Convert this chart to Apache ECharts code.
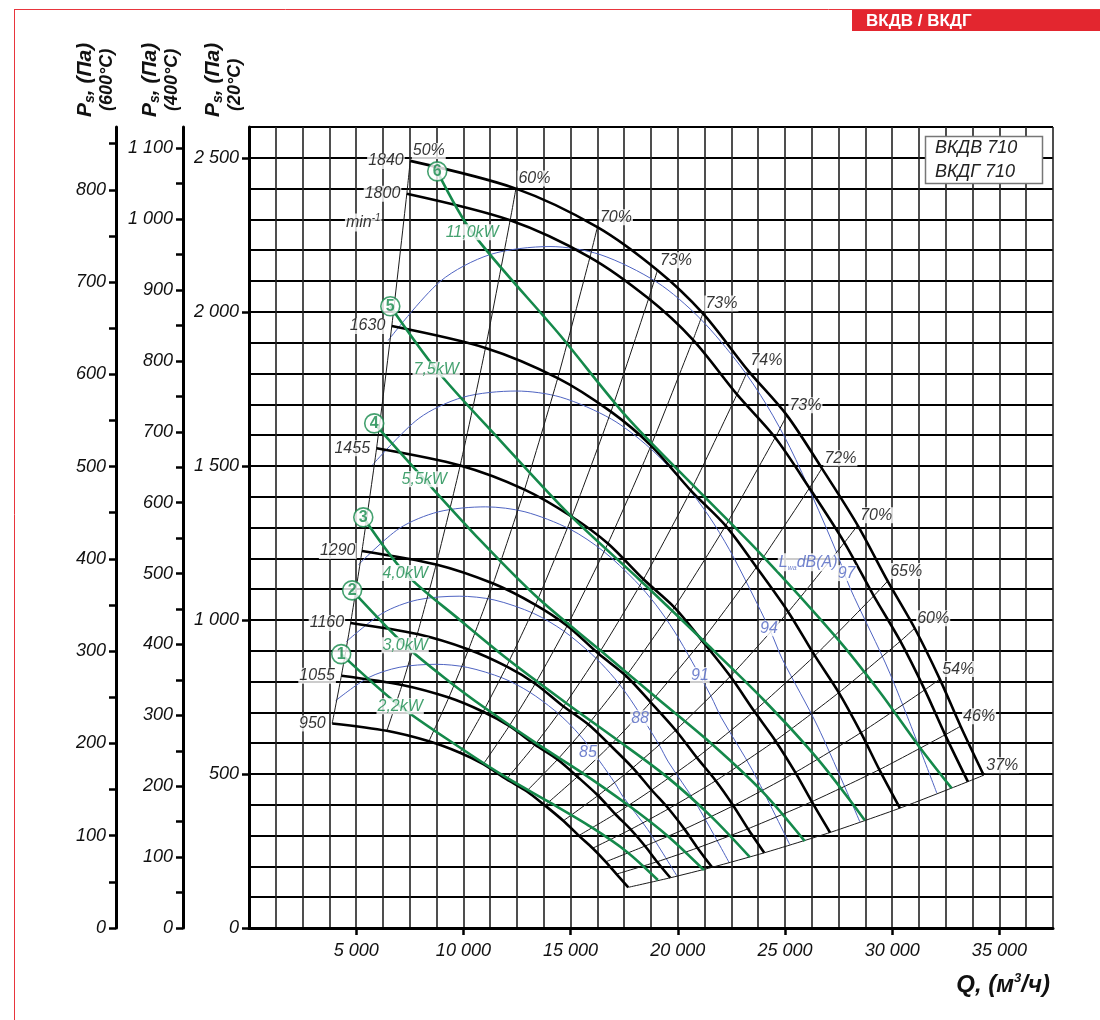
<!DOCTYPE html>
<html>
<head>
<meta charset="utf-8">
<title>ВКДВ 710 / ВКДГ 710</title>
<script src="https://cdn.jsdelivr.net/npm/echarts@6/dist/echarts.min.js"></script>
<style>
  html, body { margin: 0; padding: 0; background: #fff; }
  #chart { width: 1100px; height: 1020px; }
</style>
</head>
<body>
<div id="chart"></div>
<script>
// fan speeds, min^-1
const speeds = [950, 1055, 1160, 1290, 1455, 1630, 1800, 1840];
// efficiency marks, same index on every speed curve
const effLabels = ['50%', '60%', '70%', '73%', '73%', '74%', '73%', '72%', '70%', '65%', '60%', '54%', '46%', '37%'];

// speed curves: Q (m3/h) and Ps (Pa, 20°C)
const q950 = [3880, 6430, 8390, 9840, 10930, 12010, 12950, 13800, 14660, 15380, 16030, 16640, 17140, 17690];
const p950 = [664, 640, 606, 569, 532, 483, 444, 398, 348, 300, 259, 215, 175, 132];
const q1055 = [4310, 7140, 9320, 10920, 12140, 13340, 14390, 15320, 16280, 17080, 17800, 18470, 19030, 19650];
const p1055 = [819, 789, 748, 702, 656, 595, 547, 491, 430, 370, 320, 266, 215, 163];
const q1160 = [4740, 7850, 10240, 12010, 13350, 14670, 15820, 16850, 17900, 18780, 19570, 20310, 20920, 21600];
const p1160 = [990, 954, 904, 849, 793, 719, 661, 593, 520, 448, 387, 321, 260, 197];
const q1290 = [5270, 8730, 11390, 13360, 14840, 16310, 17590, 18730, 19900, 20890, 21770, 22590, 23270, 24030];
const p1290 = [1224, 1180, 1118, 1049, 981, 890, 818, 733, 642, 553, 478, 397, 322, 244];
const q1455 = [5950, 9850, 12850, 15060, 16740, 18400, 19840, 21130, 22450, 23560, 24550, 25480, 26250, 27100];
const p1455 = [1557, 1501, 1423, 1335, 1248, 1132, 1041, 933, 817, 704, 608, 505, 410, 310];
const q1630 = [6660, 11030, 14400, 16880, 18750, 20610, 22230, 23670, 25150, 26390, 27510, 28540, 29400, 30360];
const p1630 = [1954, 1883, 1785, 1676, 1566, 1420, 1306, 1171, 1026, 884, 764, 634, 514, 389];
const q1800 = [7360, 12180, 15900, 18640, 20710, 22760, 24540, 26140, 27770, 29140, 30380, 31520, 32470, 33530];
const p1800 = [2383, 2297, 2177, 2043, 1909, 1732, 1592, 1428, 1251, 1078, 931, 773, 627, 475];
const q1840 = [7520, 12450, 16250, 19050, 21170, 23270, 25090, 26720, 28390, 29790, 31050, 32220, 33190, 34270];
const p1840 = [2490, 2400, 2275, 2135, 1995, 1810, 1664, 1492, 1307, 1126, 973, 808, 655, 496];

// motor power lines; point 0 = circled number, point 1 = kW label
const motorKw = ['2,2kW', '3,0kW', '4,0kW', '5,5kW', '7,5kW', '11,0kW'];
const g1Q = [4300, 7050, 9940, 12040, 13990, 15950, 17630, 19070];
const g1P = [889, 720, 581, 487, 409, 328, 247, 156];
const g2Q = [4810, 7280, 9380, 11010, 13390, 15490, 17680, 19540, 21220];
const g2P = [1096, 918, 798, 714, 600, 506, 399, 298, 188];
const g3Q = [5330, 7280, 9850, 12130, 14740, 17070, 19450, 21540, 23360];
const g3P = [1333, 1152, 999, 869, 733, 616, 493, 363, 230];
const g4Q = [5840, 8170, 10780, 13480, 16370, 18980, 21640, 23970, 25920];
const g4P = [1638, 1457, 1259, 1071, 902, 749, 594, 441, 282];
const g5Q = [6590, 8730, 11710, 14970, 18240, 21170, 24010, 26530, 28720];
const g5P = [2018, 1813, 1583, 1340, 1129, 934, 740, 548, 350];
const g6Q = [8780, 10410, 14510, 17630, 20570, 23830, 27420, 29420, 31280, 32770];
const g6P = [2456, 2258, 1924, 1658, 1447, 1217, 941, 766, 587, 454];

// sound power lines Lwa, dB(A)
const noiseLevels = ['85', '88', '91', '94', '97'];
const q85 = [4040, 5550, 7000, 8730, 10180, 11840, 13080, 14240, 15020, 15690, 16360, 17060, 17430, 18590, 19950];
const p85 = [738, 812, 846, 856, 846, 811, 766, 707, 657, 604, 541, 471, 428, 320, 170];
const q88 = [4530, 6230, 7850, 9800, 11430, 13280, 14680, 15980, 16860, 17610, 18360, 19140, 19560, 20860, 22390];
const p88 = [929, 1022, 1065, 1077, 1065, 1021, 964, 889, 826, 760, 681, 593, 539, 403, 213];
const q91 = [5100, 7010, 8840, 11040, 12870, 14960, 16530, 18000, 18980, 19830, 20670, 21550, 22020, 23490, 25220];
const p91 = [1179, 1297, 1351, 1367, 1351, 1295, 1223, 1128, 1049, 964, 864, 752, 684, 511, 271];
const q94 = [5760, 7920, 9990, 12470, 14540, 16900, 18680, 20340, 21450, 22400, 23350, 24350, 24880, 26540, 28490];
const p94 = [1503, 1654, 1723, 1743, 1723, 1652, 1559, 1439, 1337, 1229, 1102, 959, 872, 652, 345];
const q97 = [6490, 8920, 11250, 14040, 16370, 19030, 21030, 22900, 24150, 25230, 26300, 27420, 28020, 29890, 32080];
const p97 = [1907, 2099, 2186, 2212, 2186, 2096, 1979, 1826, 1697, 1560, 1398, 1217, 1106, 827, 438];
const noiseLabelQ = [15810, 18240, 21030, 24250, 27870];
const noiseLabelP = [571, 681, 821, 973, 1152];
const lwaLabelAt = [26080, 1187];
const minLabelAt = [5330, 2290];

// axis ticks
const qTicks = [5000, 10000, 15000, 20000, 25000, 30000, 35000];
const p20Ticks = [0, 500, 1000, 1500, 2000, 2500];
const p400Ticks = [0, 100, 200, 300, 400, 500, 600, 700, 800, 900, 1000, 1100];
const p400Minor = [0, 50, 100, 150, 200, 250, 300, 350, 400, 450, 500, 550, 600, 650, 700, 750, 800, 850, 900, 950, 1000, 1050, 1100];
const p600Ticks = [0, 100, 200, 300, 400, 500, 600, 700, 800];
const p600Minor = [0, 50, 100, 150, 200, 250, 300, 350, 400, 450, 500, 550, 600, 650, 700, 750, 800, 850];

const FONT = "'Liberation Sans', Arial, sans-serif";
const GREEN = '#15894b';
const BLUE = '#4f64c2';

const fmt = (v) => {
    if (v < 1000) return String(v);
    return Math.floor(v / 1000) + ' ' + String(v % 1000).padStart(3, '0');
};
const pts = (qs, ps) => qs.map((q, i) => [q, ps[i]]);

const fanQ = [q950, q1055, q1160, q1290, q1455, q1630, q1800, q1840];
const fanP = [p950, p1055, p1160, p1290, p1455, p1630, p1800, p1840];
const greenQ = [g1Q, g2Q, g3Q, g4Q, g5Q, g6Q];
const greenP = [g1P, g2P, g3P, g4P, g5P, g6P];
const noiseQ = [q85, q88, q91, q94, q97];
const noiseP = [p85, p88, p91, p94, p97];

const series = [];

noiseQ.forEach((qs, k) => {
    series.push({
        type: 'line', data: pts(qs, noiseP[k]), smooth: 0.3, symbol: 'none',
        lineStyle: { color: BLUE, width: 1 }, z: 2, silent: true
    });
});

effLabels.forEach((l, i) => {
    series.push({
        type: 'line', data: speeds.map((s, k) => [fanQ[k][i], fanP[k][i]]), smooth: 0.2, symbol: 'none',
        lineStyle: { color: '#1a1a1a', width: 1 }, z: 3, silent: true
    });
});

speeds.forEach((s, k) => {
    series.push({
        type: 'line', data: pts(fanQ[k], fanP[k]), smooth: 0.3, symbol: 'none',
        lineStyle: { color: '#000', width: 2.6 }, z: 4, silent: true
    });
});

greenQ.forEach((qs, k) => {
    series.push({
        type: 'line', data: pts(qs, greenP[k]), smooth: 0.3, symbol: 'none',
        lineStyle: { color: GREEN, width: 2.6 }, z: 5, silent: true
    });
});

const labelSeries = (data, label, z) => ({
    type: 'scatter', data, symbolSize: 1, itemStyle: { color: 'rgba(0,0,0,0)' },
    label: Object.assign({ show: true, formatter: '{b}', fontFamily: FONT, fontStyle: 'italic', fontSize: 16 }, label),
    z: z || 10, silent: true
});

// rpm labels
series.push(labelSeries(
    speeds.map((s, k) => ({ name: String(s), value: [fanQ[k][0], fanP[k][0]] })),
    { position: 'left', distance: 5, color: '#000', backgroundColor: '#fff', padding: [0, 1] }
));
// min^-1
series.push(labelSeries(
    [{ name: 'min', value: minLabelAt }],
    { position: 'inside', color: '#000', backgroundColor: '#fff', padding: [0, 1],
      formatter: '{m|min}{e|-1}',
      rich: { m: { fontFamily: FONT, fontStyle: 'italic', fontSize: 16, color: '#000', lineHeight: 18 },
              e: { fontFamily: FONT, fontStyle: 'italic', fontSize: 10, color: '#000', verticalAlign: 'top', lineHeight: 10 } } }
));
// efficiency labels
series.push(labelSeries(
    effLabels.map((l, i) => ({ name: l, value: [q1840[i], p1840[i]] })),
    { position: 'right', distance: 1, offset: [0, -10], color: '#000', backgroundColor: '#fff', padding: [0, 1] }
));
// noise labels
series.push(labelSeries(
    noiseLevels.map((l, i) => ({ name: l, value: [noiseLabelQ[i], noiseLabelP[i]] })),
    { position: 'inside', color: BLUE, backgroundColor: '#fff', padding: [0, 1] }
));
series.push(labelSeries(
    [{ name: 'Lwa', value: lwaLabelAt }],
    { position: 'inside', backgroundColor: '#fff', padding: [0, 1],
      formatter: '{l|L}{s|wa}{l|dB(A)}',
      rich: { l: { fontFamily: FONT, fontStyle: 'italic', fontSize: 16, color: BLUE, lineHeight: 18 },
              s: { fontFamily: FONT, fontStyle: 'italic', fontSize: 7, color: BLUE, verticalAlign: 'bottom', lineHeight: 7 } } }
));
// kW labels
series.push(labelSeries(
    motorKw.map((l, i) => ({ name: l, value: [greenQ[i][1], greenP[i][1]] })),
    { position: 'inside', color: GREEN, backgroundColor: '#fff', padding: [0, 1] }
));
// circled motor numbers
series.push({
    type: 'scatter', symbol: 'circle', symbolSize: 19,
    data: motorKw.map((l, i) => ({ name: String(i + 1), value: [greenQ[i][0], greenP[i][0]] })),
    itemStyle: { color: '#fff', borderColor: GREEN, borderWidth: 1.6 },
    label: { show: true, position: 'inside', formatter: '{b}', color: GREEN, fontFamily: FONT, fontWeight: 'bold', fontSize: 16 },
    z: 11, silent: true
});

const labelText = { fontFamily: FONT, fontStyle: 'italic', fontSize: 18, color: '#111' };

const valueAxisY = (max, offset, ticks, minor) => ({
    type: 'value', min: 0, max, position: 'left', offset,
    axisLine: { show: true, onZero: false, lineStyle: { color: '#000', width: 3 } },
    axisTick: { show: true, customValues: minor, length: 7, lineStyle: { color: '#000', width: 2.5 } },
    axisLabel: Object.assign({ customValues: ticks, formatter: fmt, margin: 10 }, labelText),
    splitLine: { show: false }
});

const option = {
    animation: false,
    backgroundColor: '#fff',
    textStyle: { fontFamily: FONT },
    grid: { left: 249, top: 127, width: 804, height: 801 },
    xAxis: [
        {
            type: 'value', min: 0, max: 37500, interval: 1250,
            axisLine: { show: false }, axisTick: { show: false }, axisLabel: { show: false },
            splitLine: { show: true, lineStyle: { color: '#222', width: 1.6 } }
        },
        {
            type: 'value', min: 0, max: 37500, position: 'bottom',
            axisLine: { show: true, onZero: false, lineStyle: { color: '#000', width: 3 } },
            axisTick: { show: true, customValues: qTicks, length: 7, lineStyle: { color: '#000', width: 2.5 } },
            axisLabel: Object.assign({ customValues: qTicks, formatter: fmt, margin: 14 }, labelText),
            splitLine: { show: false }
        }
    ],
    yAxis: [
        {
            type: 'value', min: 0, max: 2600, interval: 100,
            axisLine: { show: false }, axisTick: { show: false }, axisLabel: { show: false },
            splitLine: { show: true, lineStyle: { color: '#000', width: 2 } }
        },
        valueAxisY(2600, 0, p20Ticks, p20Ticks),
        valueAxisY(1130, 66, p400Ticks, p400Minor),
        valueAxisY(868, 133, p600Ticks, p600Minor)
    ],
    series,
    graphic: [
        { type: 'line', shape: { x1: 14.5, y1: 9, x2: 14.5, y2: 1020 }, style: { stroke: '#e8353d', lineWidth: 1 }, z: 1 },
        { type: 'line', shape: { x1: 14, y1: 9.5, x2: 1100, y2: 9.5 }, style: { stroke: '#e8353d', lineWidth: 1 }, z: 1 },
        { type: 'rect', shape: { x: 852, y: 10, width: 248, height: 21 }, style: { fill: '#e3262f' }, z: 1 },
        { type: 'text', x: 866, y: 21, z: 2,
          style: { text: 'ВКДВ / ВКДГ', fill: '#fff', font: "bold 17px 'Liberation Sans', Arial, sans-serif",
                   align: 'left', verticalAlign: 'middle', textAlign: 'left', textVerticalAlign: 'middle' } },
        { type: 'rect', shape: { x: 925.5, y: 136.5, width: 117, height: 47 }, style: { fill: '#fff', stroke: '#777', lineWidth: 1.5 }, z: 100 },
        { type: 'text', x: 935, y: 148, z: 101,
          style: { text: 'ВКДВ 710', fill: '#222', font: "italic 18px 'Liberation Sans', Arial, sans-serif",
                   align: 'left', verticalAlign: 'middle', textAlign: 'left', textVerticalAlign: 'middle' } },
        { type: 'text', x: 935, y: 172, z: 101,
          style: { text: 'ВКДГ 710', fill: '#222', font: "italic 18px 'Liberation Sans', Arial, sans-serif",
                   align: 'left', verticalAlign: 'middle', textAlign: 'left', textVerticalAlign: 'middle' } },
        // Q axis name
        { type: 'text', x: 1050, y: 985, z: 101,
          style: { text: '{q|Q, (м}{e|3}{q|/ч)}', align: 'right', verticalAlign: 'middle', textAlign: 'right', textVerticalAlign: 'middle',
                   rich: { q: { font: "italic bold 24px 'Liberation Sans', Arial, sans-serif", fill: '#111', lineHeight: 26 },
                           e: { font: "italic bold 13px 'Liberation Sans', Arial, sans-serif", fill: '#111', verticalAlign: 'top', lineHeight: 13 } } } }
    ].concat([[85, 107, '(600°C)'], [150, 172, '(400°C)'], [213, 235, '(20°C)']].flatMap(([x1, x2, t]) => [
        { type: 'text', x: x1, y: 117, rotation: Math.PI / 2, z: 101,
          style: { text: '{p|P}{s|s}{p|, (Па)}', align: 'left', verticalAlign: 'middle', textAlign: 'left', textVerticalAlign: 'middle',
                   rich: { p: { font: "italic bold 21px 'Liberation Sans', Arial, sans-serif", fill: '#111', lineHeight: 24 },
                           s: { font: "italic bold 14px 'Liberation Sans', Arial, sans-serif", fill: '#111', verticalAlign: 'bottom', lineHeight: 14 } } } },
        { type: 'text', x: x2, y: 111, rotation: Math.PI / 2, z: 101,
          style: { text: t, fill: '#111', font: "italic bold 18px 'Liberation Sans', Arial, sans-serif",
                   align: 'left', verticalAlign: 'middle', textAlign: 'left', textVerticalAlign: 'middle' } }
    ]))
};

const chart = echarts.init(document.getElementById('chart'), null, { renderer: 'canvas' });
chart.setOption(option);
</script>
</body>
</html>
